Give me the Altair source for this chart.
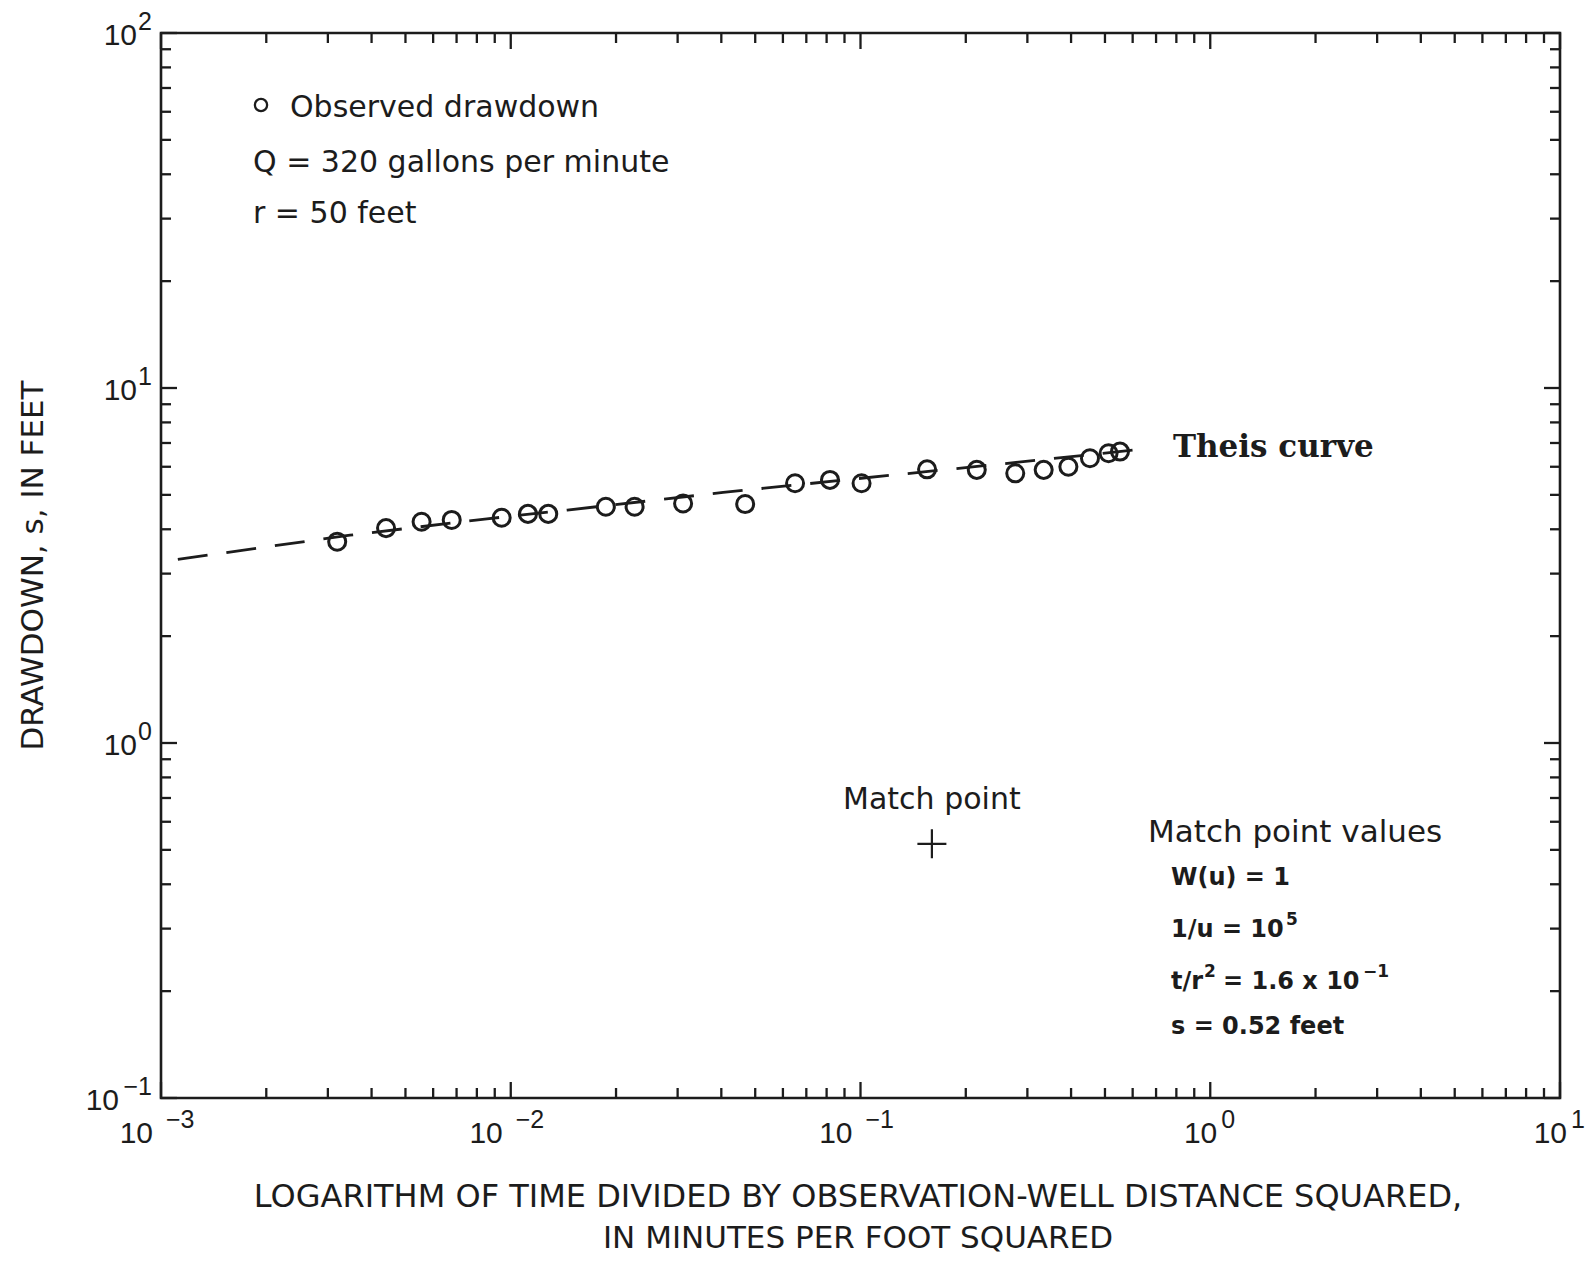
import altair as alt
import pandas as pd

# ---------------- data ----------------
obs_t_r2 = [0.00319, 0.00440, 0.00556, 0.00678, 0.00942, 0.0112, 0.0128, 0.0187,
            0.0226, 0.0311, 0.0468, 0.0650, 0.0818, 0.1007, 0.155, 0.215, 0.277,
            0.334, 0.393, 0.453, 0.512, 0.552]
obs_s = [3.69, 4.03, 4.20, 4.25, 4.31, 4.42, 4.42, 4.63, 4.63, 4.73, 4.71, 5.39,
         5.51, 5.39, 5.90, 5.88, 5.75, 5.88, 6.00, 6.34, 6.55, 6.62]

theis_t_r2 = [0.001, 0.00347, 0.00855, 0.0145, 0.0405, 0.311, 0.63]
theis_s = [3.24, 3.85, 4.28, 4.53, 5.08, 6.24, 6.72]

match_t_r2 = [0.16]
match_s = [0.52]

x_major = [1e-3, 1e-2, 1e-1, 1e0, 1e1]
x_minor = [m * 10.0 ** e for e in range(-3, 1) for m in range(2, 10)]
y_major = [1e-1, 1e0, 1e1, 1e2]
y_minor = [m * 10.0 ** e for e in range(-1, 2) for m in range(2, 10)]

x_label_vals = [1e-3, 1e-2, 1e-1, 1e0, 1e1]
x_label_exp = ["\u22123", "\u22122", "\u22121", "0", "1"]
y_label_vals = [1e-1, 1e0, 1e1, 1e2]
y_label_exp = ["\u22121", "0", "1", "2"]

# ---------------- layout / style ----------------
W, H = 1399, 1065
INK = "#1c1c1c"
LBL_FONT = "Liberation Sans"
TXT_FONT = "DejaVu Sans"
MAJ, MIN = 16, 10

xs = alt.Scale(type="log", domain=[1e-3, 10], nice=False)
ys = alt.Scale(type="log", domain=[0.1, 100], nice=False)

obs_df = pd.DataFrame({"t": obs_t_r2, "s": obs_s})
theis_df = pd.DataFrame({"t": theis_t_r2, "s": theis_s})
match_df = pd.DataFrame({"t": match_t_r2, "s": match_s})
one = pd.DataFrame({"_": [0]})

layers = []

# ---- tick marks (inward, on all four sides) ----
def xticks(vals, L):
    d = pd.DataFrame({"v": vals})
    X = alt.X("v:Q", scale=xs, axis=None)
    b = alt.Chart(d).mark_rule(color=INK, strokeWidth=2.3).encode(
        x=X, y=alt.value(H), y2=alt.value(H - L))
    t = alt.Chart(d).mark_rule(color=INK, strokeWidth=2.3).encode(
        x=X, y=alt.value(0), y2=alt.value(L))
    return [b, t]

def yticks(vals, L):
    d = pd.DataFrame({"v": vals})
    Y = alt.Y("v:Q", scale=ys, axis=None)
    l = alt.Chart(d).mark_rule(color=INK, strokeWidth=2.3).encode(
        y=Y, x=alt.value(0), x2=alt.value(L))
    r = alt.Chart(d).mark_rule(color=INK, strokeWidth=2.3).encode(
        y=Y, x=alt.value(W), x2=alt.value(W - L))
    return [l, r]

layers += xticks(x_major, MAJ) + xticks(x_minor, MIN)
layers += yticks(y_major, MAJ) + yticks(y_minor, MIN)

# ---- tick labels: "10" + exponent ----
xl = pd.DataFrame({"v": x_label_vals, "base": ["10"] * len(x_label_vals), "exp": x_label_exp})
yl = pd.DataFrame({"v": y_label_vals, "base": ["10"] * len(y_label_vals), "exp": y_label_exp})

for n, bdx, edx in [(2, -8, 5), (1, 7, 11)]:
    src = alt.Chart(xl).transform_filter(f"length(datum.exp) == {n}")
    layers.append(src.mark_text(align="right", baseline="alphabetic", dx=bdx, dy=45,
                                fontSize=30, font=LBL_FONT, color=INK).encode(
        x=alt.X("v:Q", scale=xs, axis=None), y=alt.value(H), text="base:N"))
    layers.append(src.mark_text(align="left", baseline="alphabetic", dx=edx, dy=30,
                                fontSize=25, font=LBL_FONT, color=INK).encode(
        x=alt.X("v:Q", scale=xs, axis=None), y=alt.value(H), text="exp:N"))

layers.append(alt.Chart(yl).mark_text(align="right", baseline="alphabetic", dy=-3,
                                      fontSize=25, font=LBL_FONT, color=INK).encode(
    y=alt.Y("v:Q", scale=ys, axis=None), x=alt.value(-9), text="exp:N"))
for n, bx in [(2, -42), (1, -24)]:
    layers.append(alt.Chart(yl).transform_filter(f"length(datum.exp) == {n}").mark_text(
        align="right", baseline="alphabetic", dy=12, fontSize=30, font=LBL_FONT, color=INK).encode(
        y=alt.Y("v:Q", scale=ys, axis=None), x=alt.value(bx), text="base:N"))

# ---- Theis curve (dashed) ----
layers.append(alt.Chart(theis_df).mark_line(color=INK, strokeWidth=2.8,
                                            strokeDash=[30, 19], strokeDashOffset=32).encode(
    x=alt.X("t:Q", scale=xs, axis=None), y=alt.Y("s:Q", scale=ys, axis=None)))

# ---- observed drawdown circles ----
layers.append(alt.Chart(obs_df).mark_point(shape="circle", filled=False, size=290,
                                           strokeWidth=3, color=INK, opacity=1).encode(
    x=alt.X("t:Q", scale=xs, axis=None), y=alt.Y("s:Q", scale=ys, axis=None)))

# ---- match point cross ----
layers.append(alt.Chart(match_df).mark_point(shape="M-1,0L1,0M0,-1L0,1", filled=False,
                                             size=841, strokeWidth=2.2, color=INK, opacity=1).encode(
    x=alt.X("t:Q", scale=xs, axis=None), y=alt.Y("s:Q", scale=ys, axis=None)))
layers.append(alt.Chart(match_df).mark_text(text="Match point", align="center",
                                            baseline="alphabetic", dy=-35, fontSize=30,
                                            font=TXT_FONT, color=INK).encode(
    x=alt.X("t:Q", scale=xs, axis=None), y=alt.Y("s:Q", scale=ys, axis=None)))

# ---- annotations ----
def note(text, x, y, size=30, font=TXT_FONT, weight="normal", align="left",
         baseline="alphabetic", angle=0):
    return alt.Chart(one).mark_text(align=align, baseline=baseline, fontSize=size,
                                    font=font, fontWeight=weight, color=INK,
                                    angle=angle).encode(
        x=alt.value(x), y=alt.value(y), text=alt.value(text))

layers.append(alt.Chart(one).mark_point(shape="circle", filled=False, size=150,
                                        strokeWidth=2.3, color=INK, opacity=1).encode(
    x=alt.value(100), y=alt.value(72)))
layers.append(note("Observed drawdown", 129, 84))
layers.append(note("Q = 320 gallons per minute", 92, 139))
layers.append(note("r = 50 feet", 92, 190))

layers.append(note("Theis curve", 1012, 424, size=31, font="DejaVu Serif", weight="bold"))

layers.append(note("Match point values", 987, 809, size=31))
SB = dict(size=24, weight="bold")
SUP = dict(size=17, weight="bold")
layers.append(note("W(u) = 1", 1010, 852, **SB))
layers.append(note("1/u = 10", 1010, 904, **SB))
layers.append(note("5", 1125, 892, **SUP))
layers.append(note("t/r", 1010, 956, **SB))
layers.append(note("2", 1043, 944, **SUP))
layers.append(note("= 1.6 x 10", 1062, 956, **SB))
layers.append(note("\u22121", 1202, 944, **SUP))
layers.append(note("s = 0.52 feet", 1010, 1001, **SB))

# ---- axis titles ----
layers.append(note("DRAWDOWN, s, IN FEET", -127, H / 2, size=31, align="center",
                   baseline="middle", angle=270))
layers.append(note("LOGARITHM OF TIME DIVIDED BY OBSERVATION-WELL DISTANCE SQUARED,",
                   697, 1174, size=32, align="center"))
layers.append(note("IN MINUTES PER FOOT SQUARED", 697, 1215, size=31, align="center"))

chart = alt.layer(*layers).properties(
    width=W, height=H,
    autosize=alt.AutoSizeParams(type="none"),
    padding={"left": 153, "top": 25, "right": 28, "bottom": 158},
    background="white",
).configure_view(stroke=INK, strokeWidth=2.6)

chart.save("out.html", embed_options={"renderer": "svg", "actions": False})
